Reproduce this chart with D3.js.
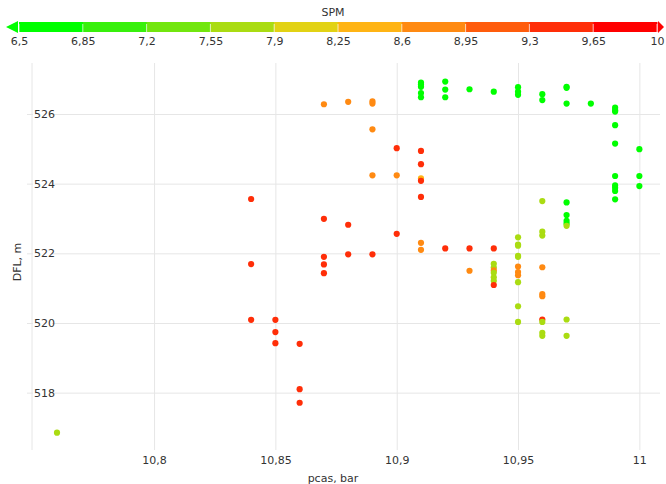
<!DOCTYPE html>
<html>
<head>
<meta charset="utf-8">
<script src="https://cdn.jsdelivr.net/npm/d3@7/dist/d3.min.js"></script>
<style>
body{margin:0;background:#fff;}
text{font-family:"DejaVu Sans",sans-serif;fill:#333;}
</style>
</head>
<body>
<div id="chart"></div>
<script>
/* data */
var pcas = [10.76,
	10.84,10.84,10.84, 10.85,10.85,10.85, 10.86,10.86,10.86,
	10.87,10.87,10.87,10.87,10.87, 10.88,10.88,10.88,
	10.89,10.89,10.89,10.89,10.89, 10.9,10.9,10.9,
	10.91,10.91,10.91,10.91,10.91,10.91,10.91,10.91,10.91,10.91,10.91,10.91,
	10.92,10.92,10.92,10.92, 10.93,10.93,10.93,
	10.94,10.94,10.94,10.94,10.94,10.94,10.94,10.94,10.94,
	10.95,10.95,10.95,10.95,10.95,10.95,10.95,10.95,10.95,10.95,10.95,10.95,10.95,10.95,
	10.96,10.96,10.96,10.96,10.96,10.96,10.96,10.96,10.96,10.96,10.96,10.96,
	10.97,10.97,10.97,10.97,10.97,10.97,10.97,10.97,10.97,10.97,
	10.98,
	10.99,10.99,10.99,10.99,10.99,10.99,10.99,10.99,10.99,10.99,
	11,11,11];
var dfl = [516.85,
	523.56,521.69,520.09, 520.09,519.74,519.42, 519.40,518.10,517.71,
	526.28,522.99,521.90,521.68,521.43, 526.35,522.82,521.97,
	526.36,526.30,525.56,524.24,521.97, 525.02,524.24,522.56,
	526.90,526.85,526.78,526.60,526.48,524.94,524.56,524.15,524.08,523.62,522.30,522.10,
	526.93,526.70,526.48,522.14, 526.71,522.14,521.50,
	526.64,522.14,521.70,521.59,521.51,521.44,521.31,521.21,521.09,
	526.77,526.64,526.55,522.46,522.25,522.22,521.93,521.90,521.62,521.46,521.37,521.17,520.48,520.03,
	526.57,526.40,523.50,522.62,522.51,521.60,520.83,520.77,520.10,520.03,519.72,519.63,
	526.78,526.75,526.30,523.46,523.10,522.93,522.85,522.79,520.10,519.63,
	526.30,
	526.18,526.11,526.07,525.68,525.15,524.22,523.95,523.88,523.79,523.55,
	524.99,524.22,523.93];
var spm = [7.7,
	9.5,9.5,9.5, 9.5,9.5,9.5, 9.5,9.5,9.5,
	8.8,9.5,9.5,9.5,9.5, 8.8,9.5,9.5,
	8.8,8.8,8.8,8.8,9.5, 9.5,8.8,9.5,
	6.6,6.6,6.6,6.6,6.6,9.5,9.5,8.5,9.5,9.5,8.7,8.7,
	6.6,6.6,6.6,9.5, 6.6,9.5,8.8,
	6.6,9.5,7.7,7.7,8.8,7.7,7.7,7.7,9.5,
	6.6,6.6,6.6,7.7,7.7,7.7,7.7,7.7,8.8,8.8,8.8,7.7,7.7,7.7,
	6.6,6.6,7.7,7.7,7.7,8.8,8.8,8.8,9.5,7.7,7.7,7.7,
	6.6,6.6,6.6,6.6,6.6,6.6,6.6,7.7,7.7,7.7,
	6.6,
	6.6,6.6,6.6,6.6,6.6,6.6,6.6,6.6,6.6,6.6,
	6.6,6.6,6.6];

var xTicks = [10.8, 10.85, 10.9, 10.95, 11];
var yTicks = [518, 520, 522, 524, 526];
var spmTicks = [6.5, 6.85, 7.2, 7.55, 7.9, 8.25, 8.6, 8.95, 9.3, 9.65, 10];
var spmColors = ["#00ff00","#38f00c","#72e60e","#aadc12","#e2d214",
	"#ffb414","#ff8a12","#ff5c0c","#ff2e08","#ff0000"];

var W = 666, H = 484;
var pLeft = 32, pRight = 660, pTop = 63, pBottom = 450;

var comma = function(v){ return String(+v.toFixed(2)).replace(".", ","); };

var svg = d3.select("#chart").append("svg")
	.attr("width", W).attr("height", H);

var x = d3.scaleLinear().domain([10.7497, 11.0085]).range([pLeft, pRight]);
var y = d3.scaleLinear().domain([516.353, 527.464]).range([pBottom, pTop]);

// colour legend
var c = d3.scaleLinear().domain([6.5, 10]).range([19, 657]);
var color = d3.scaleThreshold().domain(spmTicks.slice(1, -1)).range(spmColors);

svg.append("text").attr("x", 333).attr("y", 16)
	.attr("text-anchor", "middle").style("font-size", "11px").text("SPM");

svg.selectAll("rect.bin")
	.data(d3.range(spmColors.length))
	.enter().append("rect")
	.attr("class", "bin")
	.attr("x", function(i){ return c(spmTicks[i]); })
	.attr("y", 22)
	.attr("width", function(i){ return c(spmTicks[i+1]) - c(spmTicks[i]) + 0.5; })
	.attr("height", 10)
	.attr("fill", function(i){ return spmColors[i]; });

svg.append("path").attr("d", "M6,27L18,21L18,33Z").attr("fill", spmColors[0]);
svg.append("path").attr("d", "M658,21L664,27L658,33Z").attr("fill", spmColors[9]);

var legAxis = svg.append("g").attr("transform", "translate(0,32)")
	.call(d3.axisBottom(c).tickValues(spmTicks).tickSize(0).tickPadding(5).tickFormat(comma));
legAxis.select(".domain").remove();
legAxis.selectAll("text").style("font-size", "11px").attr("fill", "#333");
svg.selectAll("line.bintick")
	.data(spmTicks).enter().append("line")
	.attr("class", "bintick")
	.attr("x1", function(d){ return c(d); }).attr("x2", function(d){ return c(d); })
	.attr("y1", 24).attr("y2", 32)
	.attr("stroke", "#fff").attr("stroke-opacity", 0.7);

// grid
var gx = svg.append("g").attr("transform", "translate(0," + pTop + ")")
	.call(d3.axisBottom(x).tickValues(xTicks).tickSize(pBottom - pTop).tickPadding(6).tickFormat(comma));
gx.select(".domain").remove();
gx.selectAll("line").attr("stroke", "#e6e6e6");
gx.selectAll("text").style("font-size", "11px").attr("fill", "#333");

svg.append("line").attr("x1", pLeft).attr("x2", pLeft).attr("y1", pTop).attr("y2", pBottom)
	.attr("stroke", "#e6e6e6");

var gy = svg.append("g").attr("transform", "translate(27,0)")
	.call(d3.axisLeft(y).tickValues(yTicks).tickSize(-(pRight - 27)).tickFormat(d3.format("d")));
gy.select(".domain").remove();
gy.selectAll("line").attr("stroke", "#e6e6e6");
gy.selectAll(".tick").insert("rect", "text")
	.attr("x", 6).attr("y", -6).attr("width", 19).attr("height", 12).attr("fill", "#fff");
gy.selectAll("text").attr("x", 7).attr("text-anchor", "start")
	.style("font-size", "11px").attr("fill", "#333");

// axis titles
svg.append("text").attr("x", 333).attr("y", 482)
	.attr("text-anchor", "middle").style("font-size", "11px").text("pcas, bar");
svg.append("text").attr("transform", "translate(21,262) rotate(-90)")
	.attr("text-anchor", "middle").style("font-size", "11px").text("DFL, m");

// points
svg.append("g").selectAll("circle")
	.data(d3.range(pcas.length))
	.enter().append("circle")
	.attr("cx", function(i){ return x(pcas[i]); })
	.attr("cy", function(i){ return y(dfl[i]); })
	.attr("r", 3.1)
	.attr("fill", function(i){ return color(spm[i]); });
</script>
</body>
</html>
